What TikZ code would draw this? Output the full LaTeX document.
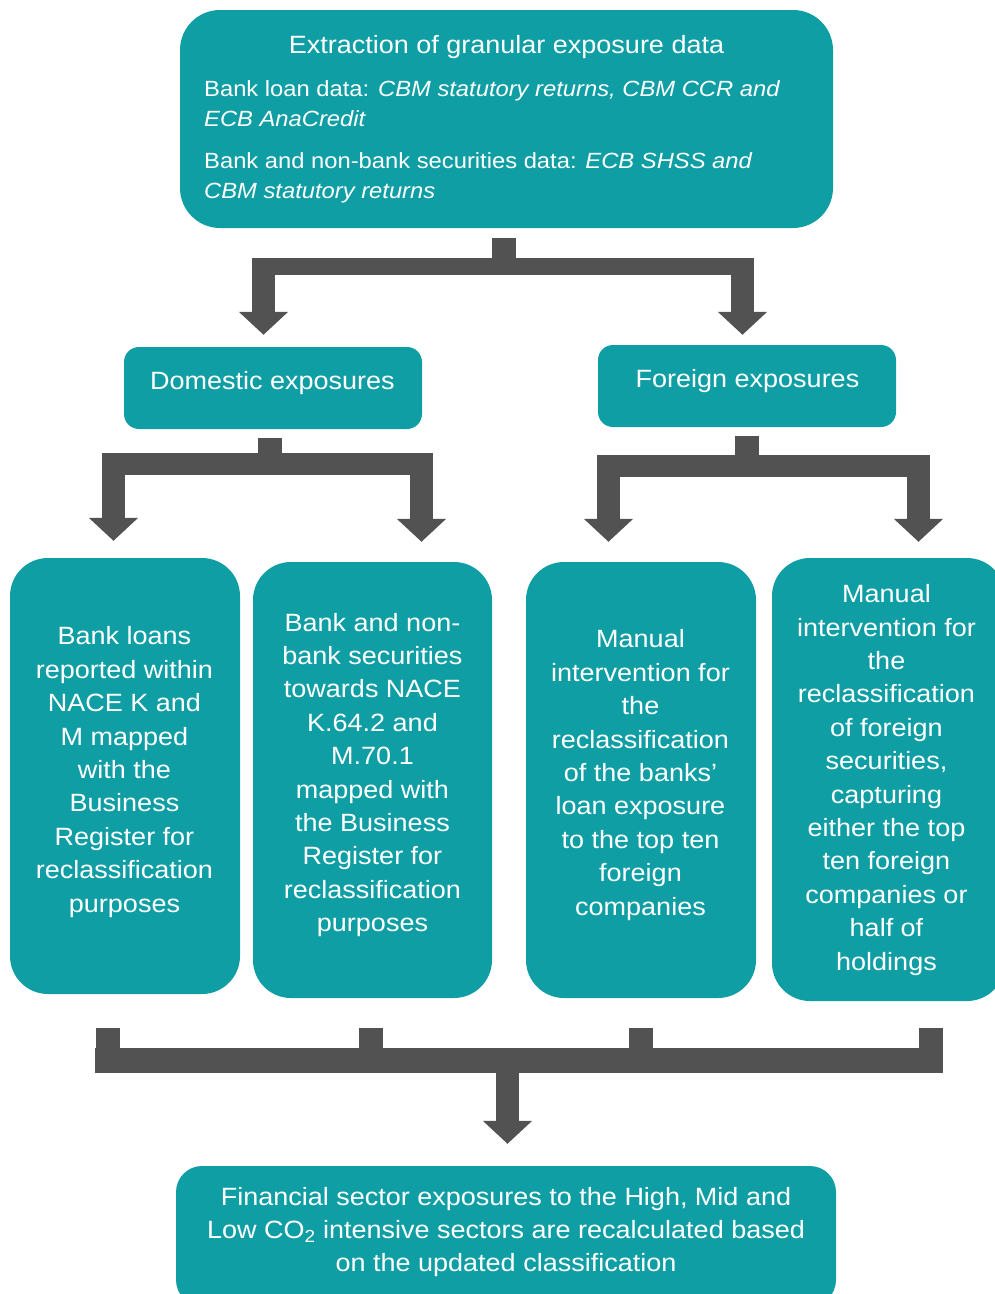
\documentclass[tikz,border=0pt]{standalone}
\usepackage{fontspec}
\setmainfont{Liberation Sans}[FakeStretch=1.08]
\usetikzlibrary{arrows.meta}
\definecolor{tealbox}{HTML}{109EA5}
\definecolor{pipe}{HTML}{525252}
\begin{document}
\begin{tikzpicture}[x=1pt,y=-1pt,
  box/.style={fill=tealbox, draw=none, rounded corners=#1, inner sep=0pt},
  box/.default=36pt,
  txt/.style={text=white, align=center, inner sep=0pt, font=\fontsize{25}{33.4}\selectfont},
  small/.style={text=white, inner sep=0pt, anchor=base west, font=\fontsize{22}{30}\selectfont},
  stem/.style={draw=pipe, line width=24pt},
  bar/.style={draw=pipe, line width=#1},
  drop/.style={draw=pipe, line width=23.5pt, -{Triangle[length=23pt,width=48pt]}},
]
\useasboundingbox (0,0) rectangle (995,1294);

% ---------- boxes ----------
\node[box=40pt, minimum width=653pt, minimum height=218pt] (src) at (506.5,119) {};
\node[box=15pt, minimum width=298pt, minimum height=82pt] (dom) at (273,388) {};
\node[box=15pt, minimum width=298pt, minimum height=82pt] (for) at (747,386) {};
\node[box=38pt, minimum width=230pt, minimum height=436pt] (b1) at (125,776) {};
\node[box=38pt, minimum width=239pt, minimum height=436pt] (b2) at (372.5,780) {};
\node[box=38pt, minimum width=230pt, minimum height=436pt] (b3) at (641,780) {};
\node[box=38pt, minimum width=233pt, minimum height=443pt] (b4) at (888.5,779.5) {};
\node[box=26pt, minimum width=660pt, minimum height=140pt] (dst) at (506,1236) {};

% ---------- texts ----------
\node[txt, anchor=base] (srcT) at (506.5,53) {Extraction of granular exposure data};
\node[small] (srcA) at (204,96) {Bank loan data: \textit{CBM statutory returns, CBM CCR and}};
\node[small] (srcB) at (204,126) {\textit{ECB AnaCredit}};
\node[small] (srcC) at (204,168) {Bank and non-bank securities data: \textit{ECB SHSS and}};
\node[small] (srcD) at (204,198) {\textit{CBM statutory returns}};

\node[txt] (domT) at (272.5,383) {Domestic exposures};
\node[txt] (forT) at (747.5,381) {Foreign exposures};

\node[txt] (b1T) at (124.5,772) {Bank loans\\reported within\\NACE K and\\M mapped\\with the\\Business\\Register for\\reclassification\\purposes};
\node[txt] (b2T) at (372.5,775) {Bank and non-\\bank securities\\towards NACE\\K.64.2 and\\M.70.1\\mapped with\\the Business\\Register for\\reclassification\\purposes};
\node[txt] (b3T) at (640.5,775) {Manual\\intervention for\\the\\reclassification\\of the banks’\\loan exposure\\to the top ten\\foreign\\companies};
\node[txt] (b4T) at (886.5,780) {Manual\\intervention for\\the\\reclassification\\of foreign\\securities,\\capturing\\either the top\\ten foreign\\companies or\\half of\\holdings};

\node[txt] (dstT) at (506,1232) {Financial sector exposures to the High, Mid and\\Low CO\textsubscript{2} intensive sectors are recalculated based\\on the updated classification};

% ---------- split below the source box ----------
\coordinate (j0) at (503.5,266);
\coordinate (j0l) at (263.5,266);
\coordinate (j0r) at (742.5,266);
\draw[stem] ([shift={(-3,10)}]src.south) -- (j0);
\draw[bar=17pt] (252,266) -- (754,266);
\draw[drop, shorten >=12pt] (j0l) -- (j0l |- dom.north);
\draw[drop, shorten >=10pt] (j0r) -- (j0r |- for.north);

% ---------- split below the domestic box ----------
\coordinate (j1) at (270,464);
\coordinate (j1l) at (113.5,464);
\coordinate (j1r) at (421.5,464);
\draw[stem] ([shift={(-3,9)}]dom.south) -- (j1);
\draw[bar=22pt] (102,464) -- (433,464);
\draw[drop, shorten >=17pt] (j1l) -- (j1l |- b1.north);
\draw[drop, shorten >=20pt] (j1r) -- (j1r |- b2.north);

% ---------- split below the foreign box ----------
\coordinate (j2) at (746.5,466);
\coordinate (j2l) at (608.5,466);
\coordinate (j2r) at (918.5,466);
\draw[stem] ([shift={(-0.5,9)}]for.south) -- (j2);
\draw[bar=22pt] (597,466) -- (930,466);
\draw[drop, shorten >=20pt] (j2l) -- (j2l |- b3.north);
\draw[drop, shorten >=16pt] (j2r) -- (j2r |- b4.north);

% ---------- merge into the result box ----------
\coordinate (m1) at (108,1060.5);
\coordinate (m2) at (371,1060.5);
\coordinate (m3) at (641,1060.5);
\coordinate (m4) at (931,1060.5);
\coordinate (m0) at (507.5,1060.5);
\draw[stem] ([shift={(-17,34)}]b1.south) -- (m1);
\draw[stem] ([shift={(-1.5,30)}]b2.south) -- (m2);
\draw[stem] ([shift={(0,30)}]b3.south) -- (m3);
\draw[stem] ([shift={(42.5,27)}]b4.south) -- (m4);
\draw[bar=25pt] (95,1060.5) -- (943,1060.5);
\draw[drop, shorten >=22pt] (m0) -- (m0 |- dst.north);
\end{tikzpicture}
\end{document}
